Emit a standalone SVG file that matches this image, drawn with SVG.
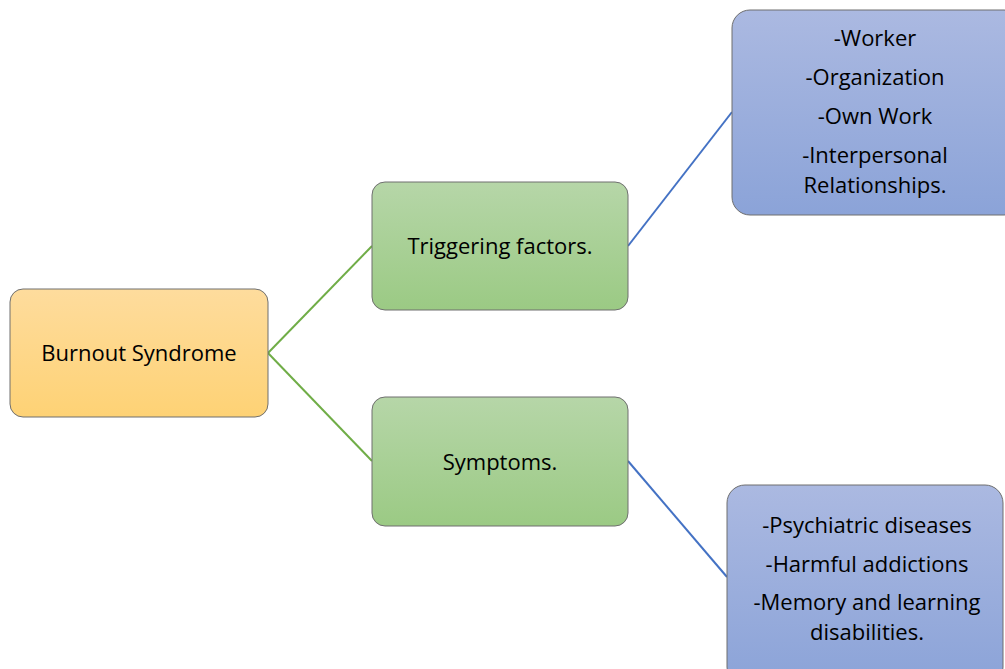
<svg xmlns="http://www.w3.org/2000/svg" width="1005" height="669" viewBox="0 0 1005 669">
<defs>
<linearGradient id="gO" x1="0" y1="0" x2="0" y2="1"><stop offset="0" stop-color="#fedc9d"/><stop offset="1" stop-color="#fed275"/></linearGradient>
<linearGradient id="gG" x1="0" y1="0" x2="0" y2="1"><stop offset="0" stop-color="#b6d6a8"/><stop offset="1" stop-color="#9bca84"/></linearGradient>
<linearGradient id="gB" x1="0" y1="0" x2="0" y2="1"><stop offset="0" stop-color="#abb9e1"/><stop offset="1" stop-color="#8ba3d8"/></linearGradient>
<style>
.box{stroke:#6f6f6f;stroke-width:1}
text{font-family:"Open Sans","Liberation Sans",sans-serif;font-size:22px;fill:#000;text-anchor:middle}
.g{stroke:#70ad47;stroke-width:2;fill:none}
.b{stroke:#4472c4;stroke-width:2;fill:none}
</style>
</defs>
<rect width="1005" height="669" fill="#fff"/>
<g id="connectors">
<line class="g" x1="268" y1="353" x2="372" y2="246"/>
<line class="g" x1="268" y1="353" x2="372" y2="461"/>
<line class="b" x1="628" y1="246" x2="732" y2="112"/>
<line class="b" x1="628" y1="461" x2="727" y2="577"/>
</g>
<g id="burnout">
<rect class="box" x="10" y="289" width="258" height="128" rx="13" fill="url(#gO)"/>
<text x="139" y="361">Burnout Syndrome</text>
</g>
<g id="triggering">
<rect class="box" x="372" y="182" width="256" height="128" rx="13" fill="url(#gG)"/>
<text x="500" y="254">Triggering factors.</text>
</g>
<g id="symptoms">
<rect class="box" x="372" y="397" width="256" height="129" rx="13" fill="url(#gG)"/>
<text x="500" y="470">Symptoms.</text>
</g>
<g id="factors">
<rect class="box" x="732" y="10" width="290" height="205" rx="18" fill="url(#gB)"/>
<text x="875" y="46">-Worker</text>
<text x="875" y="85">-Organization</text>
<text x="875" y="124">-Own Work</text>
<text x="875" y="163">-Interpersonal</text>
<text x="875" y="193">Relationships.</text>
</g>
<g id="symptomlist">
<rect class="box" x="727" y="485" width="276" height="200" rx="18" fill="url(#gB)"/>
<text x="867" y="533">-Psychiatric diseases</text>
<text x="867" y="572">-Harmful addictions</text>
<text x="867" y="610">-Memory and learning</text>
<text x="867" y="640">disabilities.</text>
</g>
</svg>
